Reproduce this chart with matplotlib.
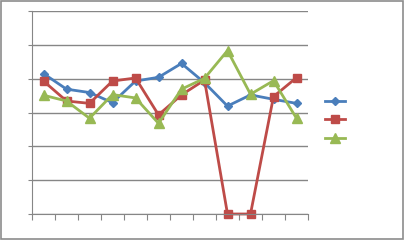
import matplotlib.pyplot as plt
from matplotlib.ticker import MultipleLocator
from matplotlib.lines import Line2D

# values, 12 categories
cats = list(range(1, 13))
series1 = [4.15, 3.69, 3.59, 3.29, 3.93, 4.04, 4.45, 3.88, 3.19, 3.52, 3.39, 3.27]
series2 = [3.93, 3.34, 3.27, 3.93, 4.02, 2.93, 3.52, 3.96, 0.0, 0.0, 3.47, 4.03]
series3 = [3.51, 3.34, 2.83, 3.53, 3.43, 2.68, 3.69, 4.01, 4.83, 3.54, 3.94, 2.83]

blue = '#4A7EBB'
red = '#BE4B48'
green = '#98B954'
grid_c = '#868686'

fig = plt.figure(figsize=(4.04, 2.4), dpi=100)
fig.patch.set_facecolor('white')
# chart area border
fig.add_artist(plt.Rectangle((0.002, 0.004), 0.996, 0.992, transform=fig.transFigure,
                             fill=False, edgecolor='#8c8c8c', linewidth=1.2))

ax = fig.add_axes([32 / 404, 26 / 240, 276 / 404, 203 / 240])

styles = [
  (series1, blue, 'D', 4.5),
  (series2, red, 's', 6),
  (series3, green, '^', 6.5),
]
for ys, c, m, ms in styles:
  ax.plot(cats, ys, color=c, marker=m, markersize=ms, linewidth=2.0,
          markeredgecolor=c, markerfacecolor=c, clip_on=False)

ax.set_xlim(0.5, 12.5)
ax.set_ylim(0, 6)
ax.yaxis.set_major_locator(MultipleLocator(1))
ax.set_xticks([i + 0.5 for i in range(0, 13)])
ax.set_xticklabels([])
ax.set_yticklabels([])
ax.grid(True, axis='y', color=grid_c, linewidth=1)
ax.set_axisbelow(True)

for s in ['top', 'right']:
  ax.spines[s].set_visible(False)
ax.spines['left'].set_color(grid_c)
ax.spines['bottom'].set_color(grid_c)
ax.tick_params(axis='x', direction='out', length=4, color=grid_c)
ax.tick_params(axis='y', direction='out', length=3, color=grid_c)

handles = [Line2D([], [], color=c, marker=m, markersize=ms, linewidth=2.0,
                  markeredgecolor=c) for _, c, m, ms in styles]
fig.legend(handles, [' ', ' ', ' '], loc='center left',
           bbox_to_anchor=(314 / 404, 1 - 120 / 240), frameon=False,
           handlelength=1.6, labelspacing=0.45, handletextpad=0.2,
           fontsize=9)

fig.savefig('out.png', dpi=100)
